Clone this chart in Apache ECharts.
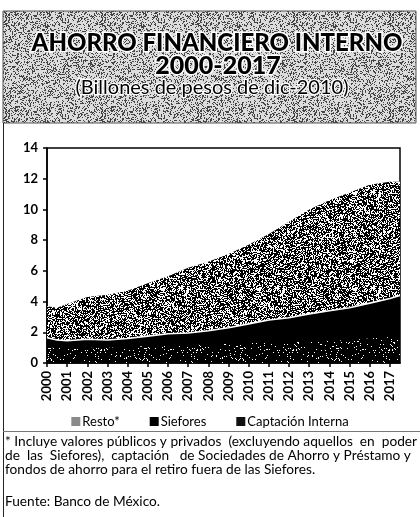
<!DOCTYPE html>
<html>
<head>
<meta charset="utf-8">
<script src="https://cdn.jsdelivr.net/npm/echarts@6/dist/echarts.min.js"></script>
<style>
html,body{margin:0;padding:0;background:#fff;}
#c{width:420px;height:517px;}
</style>
</head>
<body>
<div id="c"></div>
<script>
// ---- data (billones de pesos de dic-2010) ----
var years = [2000, 2000.5, 2001, 2002, 2003, 2004, 2005, 2006, 2007, 2008, 2009, 2010, 2011, 2012, 2013, 2014, 2015, 2016, 2017, 2017.5];
var captacion = [1.0, 1.0, 0.95, 1.0, 1.0, 1.05, 1.1, 1.1, 1.15, 1.2, 1.25, 1.3, 1.3, 1.35, 1.4, 1.45, 1.5, 1.6, 1.7, 1.7];
var siefores = [0.65, 0.5, 0.5, 0.55, 0.5, 0.55, 0.65, 0.8, 0.8, 0.9, 1.05, 1.25, 1.5, 1.6, 1.8, 1.95, 2.1, 2.3, 2.5, 2.7];
var resto = [2.05, 2.1, 2.4, 2.75, 2.95, 3.1, 3.45, 3.75, 4.25, 4.5, 4.8, 5.15, 5.6, 6.25, 6.8, 7.2, 7.5, 7.7, 7.6, 7.4];
var seriesNames = ['Resto*', 'Siefores', 'Captación Interna'];
var yTicks = [0, 2, 4, 6, 8, 10, 12, 14];

// cumulative (stacked) levels built from the arrays above
var lvl1 = captacion.map(function(v){ return v; });
var lvl2 = captacion.map(function(v,i){ return +(v + siefores[i]).toFixed(3); });
var lvl3 = lvl2.map(function(v,i){ return +(v + resto[i]).toFixed(3); });
function pairs(vals){ return years.map(function(x,i){ return [x, vals[i]]; }); }

// deterministic dither textures (scan look)
function hash(x, y, s){
  var h = Math.imul(x, 374761393) + Math.imul(y, 668265263) + Math.imul(s, 1442695041);
  h = Math.imul(h ^ (h >>> 13), 1274126177);
  h = h ^ (h >>> 16);
  return (h >>> 0) / 4294967296;
}
function texture(p, seed, base, ink){
  var n = 96, cv = document.createElement('canvas');
  cv.width = n; cv.height = n;
  var ctx = cv.getContext('2d');
  ctx.fillStyle = base; ctx.fillRect(0,0,n,n);
  ctx.fillStyle = ink;
  for (var y=0;y<n;y++) for (var x=0;x<n;x++){
    if (hash(x,y,seed) < p) ctx.fillRect(x,y,1,1);
  }
  return cv;
}
var restoTex = texture(0.6, 7, '#ffffff', '#000000');
var captTex = texture(0.06, 11, '#000000', '#ffffff');
var titleTex = texture(0.3, 3, '#dcdcdc', '#444444');

var font = 'Lato, "Open Sans", sans-serif';
var chart = echarts.init(document.getElementById('c'), null, {renderer:'canvas'});

chart.setOption({
  animation: false,
  backgroundColor: '#ffffff',
  grid: {left: 47, right: 20, top: 148, bottom: 154, show: true, borderColor: '#000', borderWidth: 1.5, backgroundColor: 'transparent'},
  legend: {
    data: seriesNames,
    top: 410, left: 'center',
    itemWidth: 9, itemHeight: 9, itemGap: 30,
    icon: 'rect',
    textStyle: {fontFamily: font, fontSize: 13, color: '#000', padding: [0,0,0,-3]}
  },
  xAxis: {
    type: 'value', min: 2000, max: 2017.5, interval: 1,
    axisLine: {show: true, lineStyle: {color: '#000', width: 1.5}},
    axisTick: {show: true, length: 4, lineStyle: {color: '#000', width: 1.5}},
    splitLine: {show: false},
    axisLabel: {
      rotate: 90, margin: 8, fontFamily: font, fontSize: 13, color: '#000', fontWeight: 'bold',
      showMaxLabel: false,
      formatter: function(v){ return (v % 1 === 0) ? String(v) : ''; }
    }
  },
  yAxis: {
    type: 'value', min: yTicks[0], max: yTicks[yTicks.length-1], interval: 2,
    axisLine: {show: true, lineStyle: {color: '#000', width: 1.5}},
    axisTick: {show: true, length: 4, lineStyle: {color: '#000', width: 1.5}},
    splitLine: {show: false},
    axisLabel: {margin: 9, fontFamily: font, fontSize: 13, color: '#000', fontWeight: 'bold'}
  },
  series: [
    {
      name: 'Resto*', type: 'line', data: pairs(lvl3),
      showSymbol: false, symbol: 'none', z: 2,
      lineStyle: {width: 0},
      itemStyle: {color: '#8a8a8a'},
      areaStyle: {color: {image: restoTex, repeat: 'repeat'}, opacity: 1}
    },
    {
      name: 'Siefores', type: 'line', data: pairs(lvl2),
      showSymbol: false, symbol: 'none', z: 3,
      lineStyle: {width: 1.6, color: '#ffffff'},
      itemStyle: {color: '#000'},
      areaStyle: {color: '#000', opacity: 1}
    },
    {
      name: 'Captación Interna', type: 'line', data: pairs(lvl1),
      showSymbol: false, symbol: 'none', z: 4,
      lineStyle: {width: 0},
      itemStyle: {color: '#111'},
      areaStyle: {color: {image: captTex, repeat: 'repeat'}, opacity: 1}
    }
  ],
  graphic: [
    {type: 'rect', z: -10, shape: {x: 3, y: 11, width: 413, height: 112},
      style: {fill: {image: titleTex, repeat: 'repeat'}, stroke: '#555', lineWidth: 1}},
    {type: 'text', z: 10, x: 217, y: 43, style: {text: 'AHORRO FINANCIERO INTERNO', fontFamily: font, fontSize: 24, fontWeight: 900,
      fill: '#000', stroke: '#fff', lineWidth: 3, align: 'center', verticalAlign: 'middle'}},
    {type: 'text', z: 10, x: 218, y: 66, style: {text: '2000-2017', fontFamily: font, fontSize: 25, fontWeight: 900,
      fill: '#000', stroke: '#fff', lineWidth: 3, align: 'center', verticalAlign: 'middle'}},
    {type: 'text', z: 10, x: 212, y: 88, style: {text: '(Billones de pesos de dic-2010)', fontFamily: font, fontSize: 20,
      fill: '#000', stroke: '#fff', lineWidth: 2.5, align: 'center', verticalAlign: 'middle'}},
    {type: 'line', shape: {x1: 3.5, y1: 123, x2: 3.5, y2: 517}, style: {stroke: '#222', lineWidth: 1}},
    {type: 'line', shape: {x1: 3, y1: 431.5, x2: 420, y2: 431.5}, style: {stroke: '#777', lineWidth: 1}},
    {type: 'text', x: 5, y: 442, style: {text: '* Incluye valores públicos y privados  (excluyendo aquellos  en  poder', fontFamily: font, fontSize: 13.7, fill: '#000', verticalAlign: 'middle'}},
    {type: 'text', x: 5, y: 456, style: {text: 'de  las  Siefores),  captación   de Sociedades de Ahorro y Préstamo y', fontFamily: font, fontSize: 13.7, fill: '#000', verticalAlign: 'middle'}},
    {type: 'text', x: 5, y: 470, style: {text: 'fondos de ahorro para el retiro fuera de las Siefores.', fontFamily: font, fontSize: 13.7, fill: '#000', verticalAlign: 'middle'}},
    {type: 'text', x: 5, y: 502, style: {text: 'Fuente: Banco de México.', fontFamily: font, fontSize: 13.7, fill: '#000', verticalAlign: 'middle'}}
  ]
});
</script>
</body>
</html>
